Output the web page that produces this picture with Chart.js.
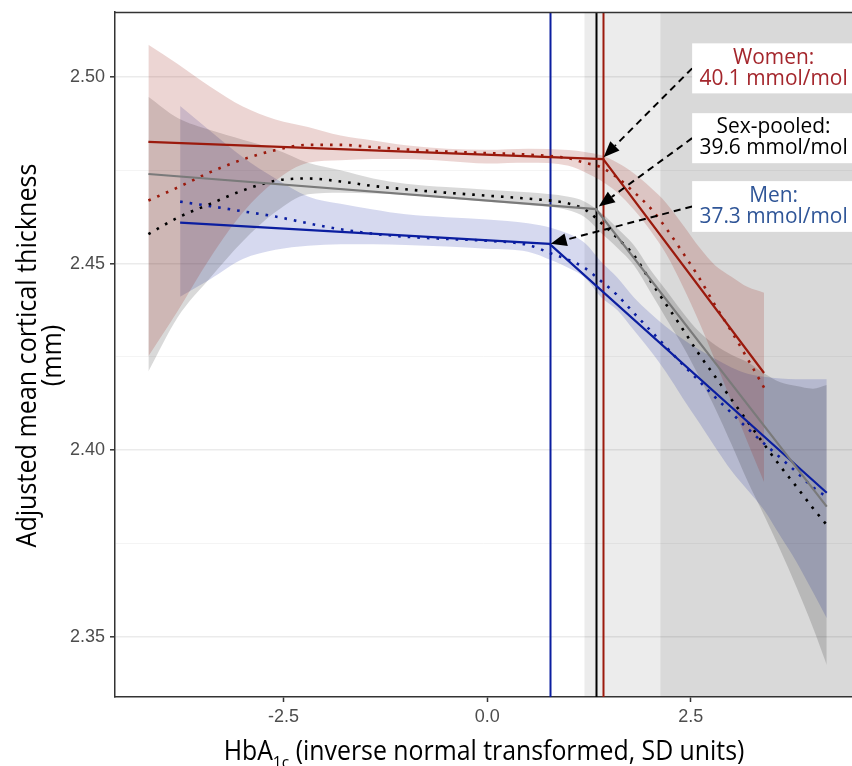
<!DOCTYPE html>
<html>
<head>
<meta charset="utf-8">
<script src="https://cdn.jsdelivr.net/npm/chart.js@4.4.0/dist/chart.umd.min.js"></script>
<style>
  html, body { margin: 0; padding: 0; background: #fff; }
  #wrap { position: relative; width: 852px; height: 766px; }
</style>
</head>
<body>
<div id="wrap"><canvas id="chart" width="852" height="766"></canvas></div>
<script>
// HbA1c (SD units) vs adjusted mean cortical thickness (mm)

// Women: smooth fit with CI
const womenX      = [-4.16, -3.8, -3.4, -3.0, -2.6, -2.2, -1.8, -1.4, -1.0, -0.5, 0, 0.5, 1.0, 1.2, 1.4, 1.6, 1.8, 2.0, 2.2, 2.4, 2.6, 2.8, 3.0, 3.2, 3.4];
const womenSmooth = [2.4669, 2.4704, 2.4745, 2.4779, 2.4804, 2.4818, 2.4818, 2.4812, 2.4806, 2.4800, 2.4796, 2.4792, 2.4782, 2.4770, 2.4758, 2.4730, 2.4692, 2.4650, 2.4594, 2.4530, 2.4463, 2.4388, 2.4318, 2.4244, 2.4168];
const womenUpper  = [2.5086, 2.5035, 2.4974, 2.4921, 2.4886, 2.4866, 2.4843, 2.4830, 2.4817, 2.4808, 2.4805, 2.4808, 2.4804, 2.4799, 2.4790, 2.4770, 2.4742, 2.4705, 2.4662, 2.4605, 2.4545, 2.4495, 2.4465, 2.4437, 2.4422];
const womenLower  = [2.4252, 2.4373, 2.4516, 2.4637, 2.4722, 2.4770, 2.4777, 2.4780, 2.4780, 2.4775, 2.4768, 2.4770, 2.4762, 2.4745, 2.4722, 2.4690, 2.4645, 2.4590, 2.4525, 2.4440, 2.4345, 2.4240, 2.4130, 2.4020, 2.3915];

// Sex-pooled
const pooledX      = [-4.16, -3.8, -3.4, -3.0, -2.6, -2.2, -1.8, -1.4, -1.0, -0.5, 0, 0.5, 1.0, 1.2, 1.4, 1.6, 1.8, 2.0, 2.2, 2.4, 2.6, 2.8, 3.0, 3.2, 3.4, 3.6, 3.8, 4.0, 4.17];
const pooledSmooth = [2.4579, 2.4623, 2.4660, 2.4696, 2.4722, 2.4728, 2.4720, 2.4708, 2.4699, 2.4690, 2.4682, 2.4674, 2.4661, 2.4645, 2.4609, 2.4568, 2.4523, 2.4455, 2.4390, 2.4325, 2.4258, 2.4197, 2.4136, 2.4076, 2.4016, 2.3957, 2.3902, 2.3845, 2.3800];
const pooledUpper  = [2.4947, 2.4890, 2.4858, 2.4832, 2.4806, 2.4770, 2.4750, 2.4728, 2.4714, 2.4705, 2.4698, 2.4691, 2.4679, 2.4666, 2.4636, 2.4594, 2.4550, 2.4485, 2.4428, 2.4370, 2.4318, 2.4282, 2.4256, 2.4236, 2.4206, 2.4182, 2.4172, 2.4165, 2.4175];
const pooledLower  = [2.4211, 2.4356, 2.4462, 2.4560, 2.4638, 2.4686, 2.4690, 2.4688, 2.4684, 2.4675, 2.4666, 2.4657, 2.4643, 2.4624, 2.4582, 2.4542, 2.4496, 2.4425, 2.4352, 2.4280, 2.4198, 2.4112, 2.4016, 2.3916, 2.3826, 2.3732, 2.3632, 2.3525, 2.3425];

// Men
const menX      = [-3.77, -3.4, -3.0, -2.6, -2.2, -1.8, -1.4, -1.0, -0.5, 0, 0.5, 0.8, 1.0, 1.2, 1.4, 1.6, 1.8, 2.0, 2.2, 2.4, 2.6, 2.8, 3.0, 3.2, 3.4, 3.6, 3.8, 4.0, 4.17];
const menSmooth = [2.4666, 2.4654, 2.4640, 2.4626, 2.4608, 2.4592, 2.4580, 2.4572, 2.4566, 2.4561, 2.4550, 2.4526, 2.4510, 2.4488, 2.4453, 2.4415, 2.4368, 2.4322, 2.4276, 2.4230, 2.4186, 2.4142, 2.4100, 2.4058, 2.4018, 2.3980, 2.3941, 2.3901, 2.3875];
const menUpper  = [2.4922, 2.4855, 2.4785, 2.4728, 2.4680, 2.4660, 2.4645, 2.4632, 2.4624, 2.4618, 2.4608, 2.4595, 2.4580, 2.4555, 2.4505, 2.4462, 2.4410, 2.4368, 2.4330, 2.4298, 2.4270, 2.4245, 2.4222, 2.4205, 2.4197, 2.4192, 2.4190, 2.4190, 2.4190];
const menLower  = [2.4411, 2.4458, 2.4512, 2.4537, 2.4548, 2.4552, 2.4552, 2.4550, 2.4546, 2.4540, 2.4532, 2.4508, 2.4488, 2.4462, 2.4410, 2.4375, 2.4322, 2.4268, 2.4208, 2.4140, 2.4075, 2.4008, 2.3945, 2.3893, 2.3840, 2.3770, 2.3700, 2.3620, 2.3550];

// piecewise linear (threshold) fits
const womenFitX  = [-4.16, 1.425, 3.40];
const womenFitY  = [2.4826, 2.4780, 2.4207];
const pooledFitX = [-4.16, 1.336, 4.17];
const pooledFitY = [2.4740, 2.4646, 2.3849];
const menFitX    = [-3.77, 0.766, 4.17];
const menFitY    = [2.4610, 2.4553, 2.3886];

// thresholds (SD units) and shaded HbA1c ranges
const thresholdX   = [0.766, 1.336, 1.425];   // men, pooled, women
const shadeStart   = [1.195, 2.128];

// axes
const xTicks      = [-2.5, 0, 2.5];
const yMajorTicks = [2.35, 2.40, 2.45, 2.50];
const yMinorTicks = [2.375, 2.425, 2.475];

// annotation labels
const labelLines = [['Women:', '40.1 mmol/mol'], ['Sex-pooled:', '39.6 mmol/mol'], ['Men:', '37.3 mmol/mol']];
const labelBoxY  = [[2.5090, 2.4956], [2.4903, 2.4769], [2.4721, 2.4585]];
const labelTips  = [[1.43, 2.4785], [1.37, 2.4653], [0.78, 2.4553]];
const labelBoxX  = 2.517;

const RED = '#9b1a0d';
const BLUE = '#0b1ea0';
const GREY = '#7a7a7a';

const toPts = (xs, ys) => xs.map((x, i) => ({ x: x, y: ys[i] }));

function band(xs, lo, hi, color) {
    const common = { showLine: true, pointRadius: 0, borderWidth: 0, cubicInterpolationMode: 'monotone', order: 10 };
    return [
        Object.assign({ data: toPts(xs, lo), fill: false }, common),
        Object.assign({ data: toPts(xs, hi), fill: '-1', backgroundColor: color }, common)
    ];
}

function smoothLine(xs, ys, color) {
    return {
        data: toPts(xs, ys), showLine: true, pointRadius: 0, borderColor: color,
        borderWidth: 2.6, borderDash: [2.6, 7], borderCapStyle: 'butt',
        cubicInterpolationMode: 'monotone', fill: false, order: 2
    };
}

function fitLine(xs, ys, color) {
    return {
        data: toPts(xs, ys), showLine: true, pointRadius: 0, borderColor: color,
        borderWidth: 2.2, tension: 0, fill: false, order: 1
    };
}

// background shading, threshold lines, arrows + labels, titles
const decorations = {
    id: 'decorations',
    beforeDraw(chart) {
        const { ctx, chartArea: a, scales: { x } } = chart;
        ctx.save();
        ctx.fillStyle = '#ececec';
        ctx.fillRect(x.getPixelForValue(shadeStart[0]), a.top, a.right - x.getPixelForValue(shadeStart[0]), a.bottom - a.top);
        ctx.fillStyle = '#d9d9d9';
        ctx.fillRect(x.getPixelForValue(shadeStart[1]), a.top, a.right - x.getPixelForValue(shadeStart[1]), a.bottom - a.top);
        ctx.restore();
    },
    beforeDatasetsDraw(chart) {
        const { ctx, chartArea: a, scales: { x } } = chart;
        const colors = [BLUE, '#000000', RED];
        ctx.save();
        ctx.lineWidth = 2;
        thresholdX.forEach((v, i) => {
            const px = Math.round(x.getPixelForValue(v)) + 0.5;
            ctx.strokeStyle = colors[i];
            ctx.beginPath();
            ctx.moveTo(px, a.top);
            ctx.lineTo(px, a.bottom);
            ctx.stroke();
        });
        ctx.restore();
    },
    afterDatasetsDraw(chart) {
        const { ctx, scales: { x, y } } = chart;
        const textColors = ['#a4262c', '#000000', '#2f5597'];
        const boxLeft = x.getPixelForValue(labelBoxX);
        const textX = (boxLeft + chart.width + 3) / 2;
        ctx.save();
        labelLines.forEach((lines, i) => {
            const top = y.getPixelForValue(labelBoxY[i][0]);
            const bottom = y.getPixelForValue(labelBoxY[i][1]);
            const midY = (top + bottom) / 2;
            const tipX = x.getPixelForValue(labelTips[i][0]);
            const tipY = y.getPixelForValue(labelTips[i][1]);

            // dashed arrow
            const ang = Math.atan2(tipY - midY, tipX - boxLeft);
            const headLen = 16, headW = 6.5;
            const baseX = tipX - headLen * Math.cos(ang);
            const baseY = tipY - headLen * Math.sin(ang);
            ctx.strokeStyle = '#000';
            ctx.lineWidth = 2;
            ctx.setLineDash([7, 5]);
            ctx.beginPath();
            ctx.moveTo(boxLeft, midY);
            ctx.lineTo(baseX, baseY);
            ctx.stroke();
            ctx.setLineDash([]);
            ctx.fillStyle = '#000';
            ctx.beginPath();
            ctx.moveTo(tipX, tipY);
            ctx.lineTo(baseX + headW * Math.sin(ang), baseY - headW * Math.cos(ang));
            ctx.lineTo(baseX - headW * Math.sin(ang), baseY + headW * Math.cos(ang));
            ctx.closePath();
            ctx.fill();

            // label box
            ctx.fillStyle = '#ffffff';
            ctx.fillRect(boxLeft, top, chart.width - boxLeft + 6, bottom - top);
            ctx.fillStyle = textColors[i];
            ctx.font = '22px "Open Sans"';
            ctx.textAlign = 'center';
            ctx.textBaseline = 'middle';
            lines.forEach((t, j) => {
                ctx.save();
                ctx.translate(textX, midY + (j === 0 ? -11 : 10));
                ctx.scale(0.95, 1);
                ctx.fillText(t, 0, 0);
                ctx.restore();
            });
        });
        ctx.restore();
    },
    afterDraw(chart) {
        const { ctx, chartArea: a } = chart;
        ctx.save();
        // top border of panel
        ctx.strokeStyle = '#333333';
        ctx.lineWidth = 1.5;
        ctx.beginPath();
        ctx.moveTo(a.left, a.top + 0.5);
        ctx.lineTo(a.right, a.top + 0.5);
        ctx.stroke();

        ctx.fillStyle = '#000';
        ctx.textBaseline = 'alphabetic';

        // x title with subscript
        const main = 'HbA', sub = '1c', rest = ' (inverse normal transformed, SD units)';
        ctx.font = '27px "Open Sans"';
        const wMain = ctx.measureText(main).width, wRest = ctx.measureText(rest).width;
        ctx.font = '17px "Open Sans"';
        const wSub = ctx.measureText(sub).width;
        const sx = 0.92;
        const total = (wMain + wSub + wRest) * sx;
        ctx.save();
        ctx.translate(484 - total / 2, 760);
        ctx.scale(sx, 1);
        ctx.textAlign = 'left';
        ctx.font = '27px "Open Sans"';
        ctx.fillText(main, 0, 0);
        ctx.font = '17px "Open Sans"';
        ctx.fillText(sub, wMain, 8);
        ctx.font = '27px "Open Sans"';
        ctx.fillText(rest, wMain + wSub, 0);
        ctx.restore();

        // y title, two lines
        ctx.save();
        ctx.translate(0, (a.top + a.bottom) / 2 + 1);
        ctx.rotate(-Math.PI / 2);
        ctx.scale(0.93, 1);
        ctx.textAlign = 'center';
        ctx.textBaseline = 'middle';
        ctx.font = '27px "Open Sans"';
        ctx.fillText('Adjusted mean cortical thickness', 0, 28);
        ctx.fillText('(mm)', 0, 53);
        ctx.restore();
        ctx.restore();
    }
};

const isMajor = v => yMajorTicks.some(t => Math.abs(t - v) < 1e-9);

new Chart(document.getElementById('chart'), {
    type: 'scatter',
    data: {
        datasets: [
            ...band(womenX, womenLower, womenUpper, 'rgba(155, 30, 20, 0.19)'),
            ...band(pooledX, pooledLower, pooledUpper, 'rgba(0, 0, 0, 0.15)'),
            ...band(menX, menLower, menUpper, 'rgba(11, 30, 160, 0.17)'),
            smoothLine(womenX, womenSmooth, RED),
            smoothLine(pooledX, pooledSmooth, '#000000'),
            smoothLine(menX, menSmooth, BLUE),
            fitLine(womenFitX, womenFitY, RED),
            fitLine(pooledFitX, pooledFitY, GREY),
            fitLine(menFitX, menFitY, BLUE)
        ]
    },
    options: {
        responsive: false,
        devicePixelRatio: 1,
        animation: false,
        layout: { padding: { top: 12, right: 0, left: 0, bottom: 0 } },
        plugins: {
            legend: { display: false },
            tooltip: { enabled: false }
        },
        scales: {
            x: {
                type: 'linear',
                min: -4.57,
                max: 4.48,
                afterBuildTicks: s => { s.ticks = xTicks.map(v => ({ value: v })); },
                afterFit: s => { s.height = 69; s.paddingLeft = 0; s.paddingRight = 0; },
                ticks: {
                    callback: v => v.toFixed(1),
                    color: '#4d4d4d',
                    font: { family: 'Liberation Sans', size: 18 },
                    padding: 4,
                    maxRotation: 0,
                    autoSkip: false
                },
                grid: { drawOnChartArea: false, tickColor: '#333333', tickLength: 5, tickWidth: 1.5 },
                border: { color: '#333333', width: 1.5 }
            },
            y: {
                type: 'linear',
                min: 2.3339,
                max: 2.5174,
                afterBuildTicks: s => {
                    s.ticks = yMajorTicks.concat(yMinorTicks).sort((a, b) => a - b).map(v => ({ value: v }));
                },
                afterFit: s => { s.width = 115; s.paddingTop = 0; s.paddingBottom = 0; },
                ticks: {
                    callback: v => isMajor(v) ? v.toFixed(2) : '',
                    color: '#4d4d4d',
                    font: { family: 'Liberation Sans', size: 18 },
                    padding: 5,
                    autoSkip: false
                },
                grid: {
                    color: c => (c.tick && isMajor(c.tick.value)) ? 'rgba(0,0,0,0.08)' : 'rgba(0,0,0,0.045)',
                    lineWidth: c => (c.tick && isMajor(c.tick.value)) ? 1.6 : 1,
                    tickColor: c => (c.tick && isMajor(c.tick.value)) ? '#333333' : 'rgba(0,0,0,0)',
                    tickLength: 5,
                    tickWidth: 1.5
                },
                border: { color: '#333333', width: 1.5 }
            }
        }
    },
    plugins: [decorations]
});
</script>
</body>
</html>
